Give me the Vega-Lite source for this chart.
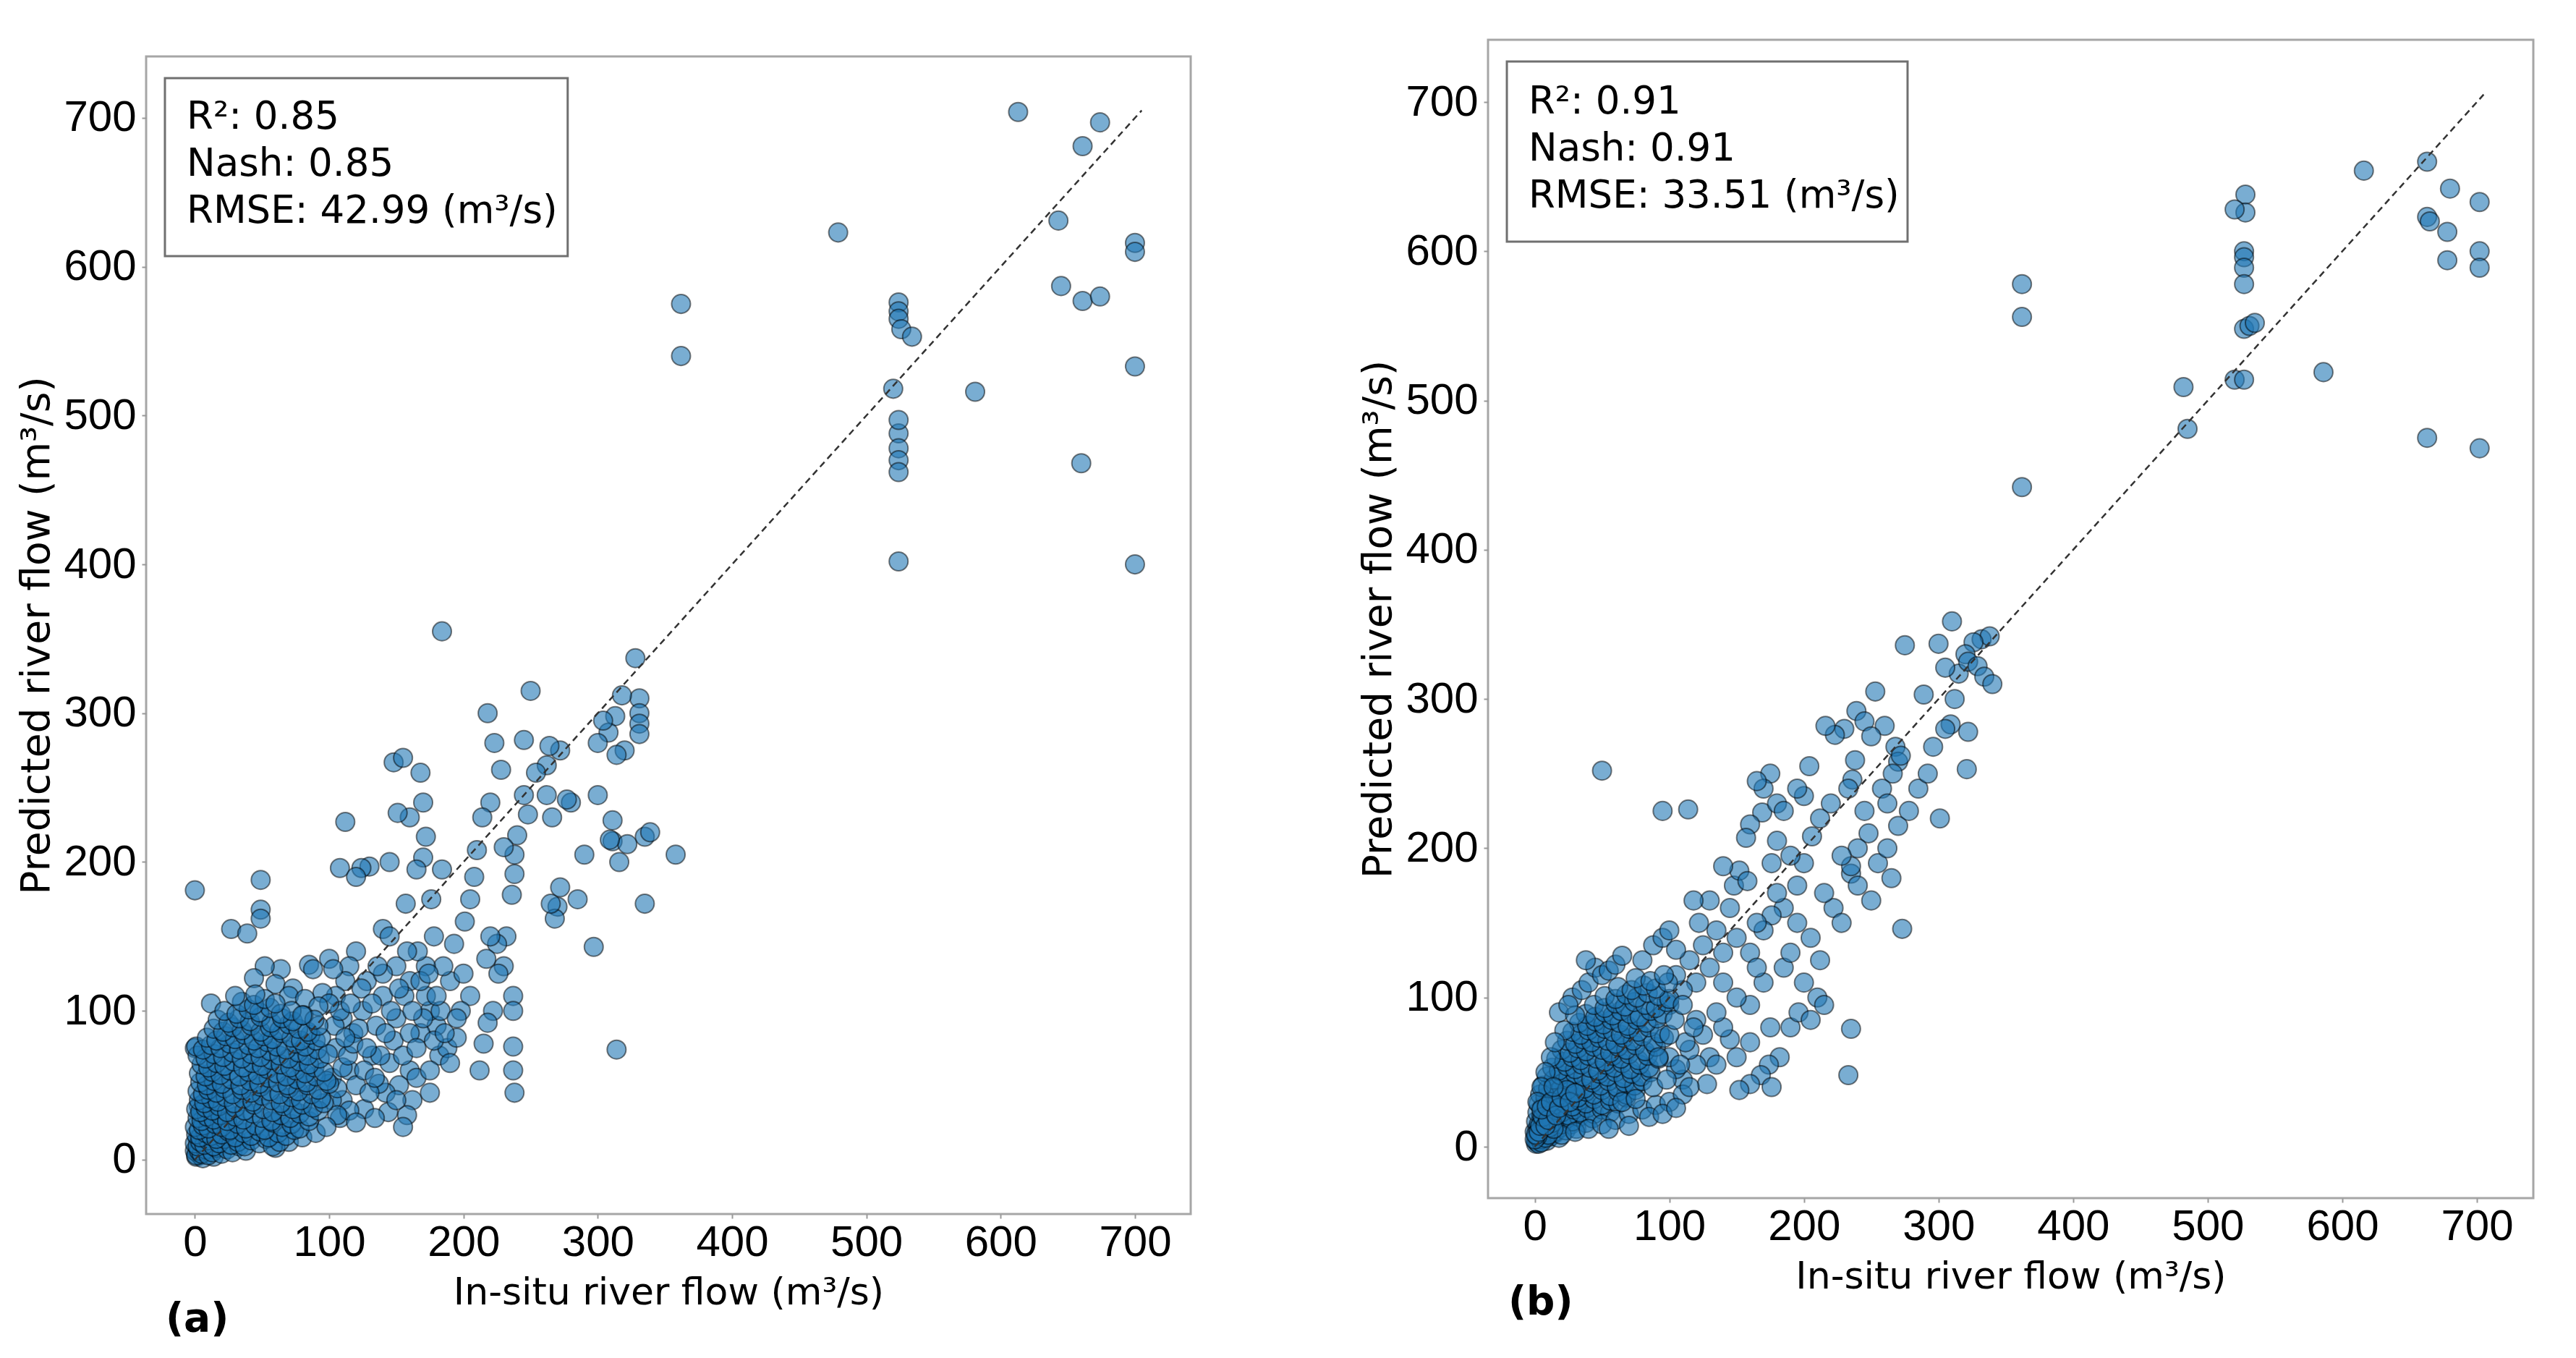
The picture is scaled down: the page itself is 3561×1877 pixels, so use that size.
{
  "$schema": "https://vega.github.io/schema/vega-lite/v6.json",
  "padding": {"left": 22, "top": 52, "right": 20, "bottom": 10},
  "background": "white",
  "spacing": 229,
  "config": {
    "font": "DejaVu Sans",
    "view": {"stroke": "#a6a6a6", "strokeWidth": 3},
    "axis": {
      "grid": false, "domain": false,
      "tickColor": "#999999", "tickSize": 6, "tickWidth": 2,
      "labelFont": "Liberation Sans", "labelFontSize": 60, "labelColor": "#000000",
      "labelFlush": false, "labelOverlap": false,
      "titleFont": "DejaVu Sans", "titleFontWeight": "normal", "titleColor": "#000000"
    },
    "axisX": {"labelPadding": 4, "titlePadding": 14, "titleFontSize": 52},
    "axisY": {"labelPadding": 8, "titlePadding": 8, "titleFontSize": 55}
  },
  "datasets": {
    "a": [
      {"x":613,"y":704},{"x":674,"y":697},{"x":661,"y":681},{"x":479,"y":623},{"x":643,"y":631},{"x":645,"y":587},{"x":661,"y":577},{"x":674,"y":580},{"x":700,"y":616},{"x":700,"y":610},{"x":700,"y":533},{"x":700,"y":400},{"x":660,"y":468},{"x":581,"y":516},{"x":362,"y":575},{"x":362,"y":540},{"x":524,"y":576},{"x":524,"y":570},{"x":524,"y":565},{"x":526,"y":558},{"x":534,"y":553},{"x":520,"y":518},{"x":524,"y":488},{"x":524,"y":478},{"x":524,"y":470},{"x":524,"y":462},{"x":524,"y":402},{"x":524,"y":497},{"x":184,"y":355},
      {"x":328,"y":337},{"x":331,"y":310},{"x":331,"y":300},{"x":331,"y":293},{"x":331,"y":286},{"x":318,"y":312},{"x":313,"y":298},{"x":320,"y":275},{"x":314,"y":272},{"x":308,"y":287},{"x":304,"y":295},{"x":300,"y":280},{"x":297,"y":143},{"x":314,"y":74},{"x":335,"y":217},{"x":335,"y":172},{"x":358,"y":205},{"x":311,"y":228},{"x":311,"y":214},{"x":316,"y":200},{"x":322,"y":212},{"x":309,"y":215},{"x":339,"y":220},
      {"x":280,"y":240},{"x":277,"y":242},{"x":272,"y":275},{"x":264,"y":278},{"x":262,"y":265},{"x":254,"y":260},{"x":250,"y":315},{"x":245,"y":282},{"x":245,"y":245},{"x":248,"y":232},{"x":240,"y":218},{"x":238,"y":205},{"x":238,"y":192},{"x":236,"y":178},{"x":230,"y":210},{"x":228,"y":262},{"x":223,"y":280},{"x":218,"y":300},{"x":220,"y":240},{"x":214,"y":230},{"x":210,"y":208},{"x":208,"y":190},{"x":205,"y":175},{"x":201,"y":160},
      {"x":262,"y":245},{"x":266,"y":230},{"x":270,"y":170},{"x":268,"y":162},{"x":265,"y":172},{"x":272,"y":183},{"x":290,"y":205},{"x":285,"y":175},{"x":300,"y":245},
      {"x":237,"y":110},{"x":237,"y":100},{"x":237,"y":76},{"x":237,"y":60},{"x":238,"y":45},{"x":232,"y":150},{"x":230,"y":130},{"x":226,"y":125},{"x":222,"y":100},{"x":218,"y":92},{"x":215,"y":78},{"x":212,"y":60},{"x":225,"y":145},{"x":220,"y":150},{"x":217,"y":135},
      {"x":184,"y":195},{"x":176,"y":175},{"x":172,"y":217},{"x":170,"y":203},{"x":170,"y":240},{"x":168,"y":260},{"x":165,"y":195},{"x":160,"y":230},{"x":151,"y":233},{"x":148,"y":267},{"x":155,"y":270},{"x":145,"y":200},{"x":140,"y":155},{"x":130,"y":197},{"x":124,"y":196},{"x":112,"y":227},{"x":108,"y":196},{"x":120,"y":190},
      {"x":190,"y":120},{"x":185,"y":130},{"x":180,"y":90},{"x":175,"y":100},{"x":172,"y":110},{"x":178,"y":150},{"x":168,"y":85},{"x":162,"y":40},{"x":158,"y":30},{"x":155,"y":22},{"x":160,"y":60},{"x":165,"y":55},{"x":152,"y":50},{"x":150,"y":95},{"x":148,"y":80},{"x":145,"y":65},{"x":142,"y":45},{"x":140,"y":110},{"x":135,"y":90},{"x":137,"y":51},{"x":126,"y":34},{"x":132,"y":70},{"x":128,"y":120},{"x":120,"y":140},{"x":115,"y":130},{"x":125,"y":100},{"x":118,"y":85},{"x":110,"y":95},{"x":112,"y":120},{"x":105,"y":110},{"x":100,"y":135},{"x":103,"y":128},{"x":105,"y":75},{"x":115,"y":60},{"x":120,"y":50},{"x":110,"y":40},{"x":102,"y":55},{"x":108,"y":28},{"x":115,"y":33},
      {"x":175,"y":45},{"x":182,"y":70},{"x":188,"y":75},{"x":195,"y":82},{"x":200,"y":125},{"x":205,"y":110},{"x":198,"y":100},{"x":193,"y":145},{"x":172,"y":130},{"x":166,"y":140},{"x":160,"y":120},{"x":156,"y":110},{"x":150,"y":130},{"x":145,"y":150},{"x":157,"y":172},{"x":140,"y":125},
      {"x":102,"y":40},{"x":106,"y":48},{"x":110,"y":62},{"x":114,"y":70},{"x":118,"y":78},{"x":122,"y":88},{"x":126,"y":60},{"x":130,"y":45},{"x":134,"y":55},{"x":138,"y":70},{"x":142,"y":85},{"x":146,"y":100},{"x":104,"y":90},{"x":108,"y":100},{"x":116,"y":105},{"x":124,"y":115},{"x":132,"y":105},{"x":136,"y":130},{"x":112,"y":82},{"x":128,"y":75},{"x":144,"y":32},{"x":150,"y":40},{"x":106,"y":30},{"x":120,"y":25},{"x":134,"y":28},
      {"x":155,"y":70},{"x":160,"y":85},{"x":165,"y":75},{"x":170,"y":95},{"x":175,"y":60},{"x":178,"y":80},{"x":183,"y":100},{"x":186,"y":85},{"x":190,"y":65},{"x":195,"y":95},{"x":152,"y":115},{"x":162,"y":100},{"x":168,"y":120},{"x":158,"y":140},{"x":174,"y":125},{"x":180,"y":110},
      {"x":27,"y":155},{"x":39,"y":152},{"x":49,"y":188},{"x":49,"y":168},{"x":49,"y":162},{"x":64,"y":128},{"x":85,"y":131},{"x":88,"y":128},{"x":52,"y":130},{"x":44,"y":122},{"x":60,"y":118},{"x":73,"y":115},{"x":95,"y":112},{"x":100,"y":105},{"x":0,"y":181},{"x":0,"y":75},{"x":12,"y":105},{"x":70,"y":110},{"x":82,"y":108},{"x":92,"y":103},
      {"x":70,"y":12},{"x":80,"y":15},{"x":90,"y":18},{"x":98,"y":22},{"x":60,"y":8},
      {"x":1,"y":2},{"x":2,"y":5},{"x":3,"y":8},{"x":4,"y":3},{"x":6,"y":6},{"x":7,"y":14},{"x":9,"y":18},{"x":11,"y":7},{"x":12,"y":24},{"x":5,"y":30},{"x":3,"y":36},{"x":15,"y":11},{"x":17,"y":28},{"x":8,"y":22},{"x":2,"y":14},{"x":0,"y":6},{"x":6,"y":1},{"x":14,"y":2},{"x":19,"y":12},{"x":23,"y":17},
      {"x":1,"y":3},{"x":3,"y":6},{"x":5,"y":4},{"x":8,"y":7},{"x":10,"y":3},{"x":13,"y":5},{"x":16,"y":8},{"x":20,"y":4},{"x":24,"y":7},{"x":28,"y":5},{"x":33,"y":9},{"x":38,"y":6},
      {"x":0,"y":11},{"x":2,"y":9},{"x":4,"y":12},{"x":7,"y":10},{"x":10,"y":13},{"x":14,"y":9},{"x":18,"y":11},{"x":22,"y":14},{"x":27,"y":10},{"x":32,"y":12},{"x":37,"y":9},{"x":42,"y":13},{"x":48,"y":11},{"x":53,"y":14},{"x":58,"y":9},{"x":63,"y":12},
      {"x":1,"y":17},{"x":4,"y":15},{"x":8,"y":18},{"x":12,"y":16},{"x":16,"y":14},{"x":20,"y":17},{"x":25,"y":19},{"x":30,"y":15},{"x":36,"y":18},{"x":42,"y":16},{"x":48,"y":19},{"x":55,"y":15},{"x":62,"y":18},{"x":68,"y":16},{"x":74,"y":20},
      {"x":0,"y":22},{"x":3,"y":20},{"x":6,"y":23},{"x":10,"y":21},{"x":15,"y":24},{"x":20,"y":22},{"x":26,"y":20},{"x":32,"y":24},{"x":38,"y":21},{"x":45,"y":23},{"x":52,"y":20},{"x":58,"y":25},{"x":65,"y":22},{"x":72,"y":24},{"x":78,"y":21},{"x":85,"y":26},
      {"x":2,"y":28},{"x":5,"y":26},{"x":9,"y":29},{"x":14,"y":27},{"x":19,"y":30},{"x":24,"y":26},{"x":30,"y":29},{"x":36,"y":27},{"x":43,"y":31},{"x":50,"y":28},{"x":57,"y":26},{"x":64,"y":30},{"x":71,"y":28},{"x":78,"y":31},{"x":85,"y":29},{"x":92,"y":33},
      {"x":1,"y":34},{"x":4,"y":32},{"x":8,"y":35},{"x":13,"y":33},{"x":18,"y":36},{"x":24,"y":32},{"x":30,"y":35},{"x":37,"y":33},{"x":44,"y":37},{"x":51,"y":34},{"x":58,"y":32},{"x":66,"y":36},{"x":73,"y":34},{"x":80,"y":37},{"x":88,"y":35},{"x":96,"y":38},
      {"x":3,"y":40},{"x":7,"y":38},{"x":12,"y":41},{"x":17,"y":39},{"x":23,"y":42},{"x":29,"y":38},{"x":36,"y":41},{"x":43,"y":39},{"x":50,"y":43},{"x":57,"y":40},{"x":64,"y":38},{"x":72,"y":42},{"x":79,"y":40},{"x":87,"y":44},{"x":94,"y":41},
      {"x":2,"y":46},{"x":6,"y":44},{"x":10,"y":47},{"x":16,"y":45},{"x":22,"y":48},{"x":28,"y":44},{"x":35,"y":47},{"x":42,"y":45},{"x":49,"y":49},{"x":56,"y":46},{"x":63,"y":44},{"x":70,"y":48},{"x":77,"y":46},{"x":84,"y":50},{"x":92,"y":47},{"x":100,"y":51},
      {"x":4,"y":52},{"x":9,"y":50},{"x":14,"y":53},{"x":20,"y":51},{"x":27,"y":54},{"x":34,"y":50},{"x":41,"y":53},{"x":48,"y":51},{"x":55,"y":55},{"x":62,"y":52},{"x":69,"y":50},{"x":76,"y":54},{"x":83,"y":52},{"x":90,"y":56},{"x":98,"y":53},
      {"x":3,"y":58},{"x":8,"y":56},{"x":13,"y":59},{"x":19,"y":57},{"x":26,"y":60},{"x":33,"y":56},{"x":40,"y":59},{"x":47,"y":57},{"x":54,"y":61},{"x":61,"y":58},{"x":68,"y":56},{"x":75,"y":60},{"x":82,"y":58},{"x":89,"y":62},{"x":96,"y":59},
      {"x":5,"y":64},{"x":10,"y":62},{"x":16,"y":65},{"x":22,"y":63},{"x":29,"y":66},{"x":36,"y":62},{"x":43,"y":65},{"x":50,"y":63},{"x":57,"y":67},{"x":64,"y":64},{"x":71,"y":62},{"x":78,"y":66},{"x":85,"y":64},{"x":93,"y":68},
      {"x":2,"y":70},{"x":8,"y":68},{"x":14,"y":71},{"x":21,"y":69},{"x":28,"y":72},{"x":35,"y":68},{"x":42,"y":71},{"x":49,"y":69},{"x":56,"y":73},{"x":63,"y":70},{"x":70,"y":68},{"x":77,"y":72},{"x":84,"y":70},{"x":91,"y":74},{"x":99,"y":71},
      {"x":1,"y":76},{"x":6,"y":74},{"x":12,"y":77},{"x":19,"y":75},{"x":26,"y":78},{"x":33,"y":74},{"x":40,"y":77},{"x":47,"y":75},{"x":54,"y":79},{"x":61,"y":76},{"x":68,"y":74},{"x":75,"y":78},{"x":82,"y":76},{"x":90,"y":80},
      {"x":9,"y":82},{"x":16,"y":80},{"x":23,"y":83},{"x":30,"y":81},{"x":37,"y":84},{"x":44,"y":80},{"x":51,"y":83},{"x":58,"y":81},{"x":65,"y":85},{"x":72,"y":82},{"x":79,"y":80},{"x":86,"y":84},{"x":94,"y":82},
      {"x":14,"y":88},{"x":21,"y":86},{"x":28,"y":89},{"x":35,"y":87},{"x":42,"y":90},{"x":49,"y":86},{"x":56,"y":89},{"x":63,"y":87},{"x":70,"y":91},{"x":77,"y":88},{"x":84,"y":86},{"x":92,"y":90},
      {"x":17,"y":94},{"x":25,"y":92},{"x":33,"y":95},{"x":41,"y":93},{"x":49,"y":96},{"x":57,"y":92},{"x":65,"y":95},{"x":73,"y":93},{"x":81,"y":97},{"x":89,"y":94},
      {"x":22,"y":100},{"x":31,"y":98},{"x":40,"y":101},{"x":48,"y":99},{"x":56,"y":102},{"x":64,"y":98},{"x":72,"y":100},{"x":80,"y":97},
      {"x":35,"y":106},{"x":44,"y":104},{"x":52,"y":108},{"x":60,"y":105},{"x":45,"y":111},{"x":30,"y":110}
    ],
    "b": [
      {"x":616,"y":654},{"x":663,"y":660},{"x":680,"y":642},{"x":663,"y":623},{"x":665,"y":620},{"x":678,"y":613},{"x":678,"y":594},{"x":702,"y":633},{"x":702,"y":600},{"x":702,"y":589},{"x":663,"y":475},{"x":702,"y":468},{"x":586,"y":519},{"x":482,"y":509},{"x":485,"y":481},{"x":528,"y":638},{"x":528,"y":626},{"x":520,"y":628},{"x":527,"y":600},{"x":527,"y":596},{"x":527,"y":589},{"x":527,"y":578},{"x":527,"y":548},{"x":531,"y":550},{"x":535,"y":552},{"x":520,"y":514},{"x":527,"y":514},{"x":362,"y":578},{"x":362,"y":556},{"x":362,"y":442},
      {"x":332,"y":340},{"x":338,"y":342},{"x":326,"y":338},{"x":320,"y":330},{"x":315,"y":317},{"x":305,"y":321},{"x":322,"y":325},{"x":329,"y":322},{"x":334,"y":315},{"x":340,"y":310},{"x":322,"y":278},{"x":309,"y":283},{"x":301,"y":220},{"x":321,"y":253},{"x":289,"y":303},{"x":310,"y":352},{"x":300,"y":337},{"x":275,"y":336},{"x":253,"y":305},{"x":268,"y":268},{"x":270,"y":258},{"x":266,"y":250},{"x":272,"y":262},{"x":273,"y":146},{"x":239,"y":292},{"x":245,"y":285},{"x":230,"y":280},{"x":223,"y":276},{"x":216,"y":282},{"x":238,"y":259},{"x":236,"y":246},{"x":233,"y":240},{"x":235,"y":183},{"x":235,"y":188},{"x":235,"y":79},{"x":233,"y":48},{"x":200,"y":235},{"x":204,"y":255},{"x":169,"y":224},{"x":160,"y":216},{"x":157,"y":207},{"x":175,"y":250},{"x":170,"y":240},{"x":165,"y":245},{"x":180,"y":230},{"x":114,"y":226},{"x":50,"y":252},{"x":95,"y":225},
      {"x":260,"y":282},{"x":250,"y":275},{"x":258,"y":240},{"x":262,"y":230},{"x":245,"y":225},{"x":248,"y":210},{"x":240,"y":200},{"x":228,"y":195},{"x":220,"y":230},{"x":212,"y":220},{"x":206,"y":208},{"x":200,"y":190},{"x":195,"y":175},{"x":190,"y":195},{"x":185,"y":160},{"x":180,"y":170},{"x":176,"y":155},{"x":170,"y":145},{"x":165,"y":150},{"x":160,"y":130},{"x":150,"y":140},{"x":145,"y":160},{"x":140,"y":130},{"x":135,"y":145},{"x":130,"y":120},{"x":125,"y":135},{"x":120,"y":110},{"x":115,"y":125},{"x":110,"y":105},{"x":105,"y":115},{"x":100,"y":95},{"x":180,"y":205},{"x":176,"y":190},{"x":185,"y":225},{"x":195,"y":240},{"x":148,"y":175},{"x":152,"y":185},{"x":158,"y":178},{"x":140,"y":188},{"x":130,"y":165},{"x":122,"y":150},{"x":118,"y":165},
      {"x":190,"y":80},{"x":196,"y":90},{"x":205,"y":85},{"x":210,"y":100},{"x":200,"y":110},{"x":215,"y":95},{"x":182,"y":60},{"x":174,"y":55},{"x":168,"y":48},{"x":160,"y":42},{"x":152,"y":38},{"x":176,"y":40},{"x":150,"y":60},{"x":145,"y":72},{"x":140,"y":80},{"x":135,"y":90},{"x":130,"y":60},{"x":125,"y":75},{"x":120,"y":55},{"x":115,"y":65},{"x":110,"y":45},{"x":105,"y":52},{"x":100,"y":60},{"x":120,"y":85},{"x":160,"y":95},{"x":170,"y":110},{"x":175,"y":80},{"x":185,"y":120},{"x":190,"y":130},{"x":160,"y":70},{"x":150,"y":100},{"x":140,"y":110},{"x":135,"y":55},{"x":128,"y":42},{"x":165,"y":120},{"x":195,"y":150},{"x":205,"y":140},{"x":212,"y":125},{"x":222,"y":160},{"x":228,"y":150},{"x":215,"y":170},{"x":240,"y":175},{"x":250,"y":165},{"x":255,"y":190},{"x":262,"y":200},{"x":265,"y":180},{"x":270,"y":215},{"x":278,"y":225},{"x":285,"y":240},{"x":292,"y":250},{"x":296,"y":268},{"x":305,"y":280},{"x":312,"y":300},
      {"x":1,"y":4},{"x":3,"y":6},{"x":5,"y":5},{"x":7,"y":8},{"x":9,"y":4},{"x":12,"y":7},{"x":15,"y":9},{"x":18,"y":6},
      {"x":0,"y":10},{"x":2,"y":12},{"x":4,"y":9},{"x":6,"y":13},{"x":9,"y":11},{"x":12,"y":14},{"x":15,"y":10},{"x":19,"y":13},{"x":23,"y":11},{"x":27,"y":15},{"x":31,"y":12},
      {"x":1,"y":17},{"x":3,"y":15},{"x":6,"y":18},{"x":9,"y":16},{"x":12,"y":19},{"x":16,"y":17},{"x":20,"y":15},{"x":24,"y":19},{"x":28,"y":17},{"x":33,"y":20},{"x":38,"y":16},{"x":43,"y":19},
      {"x":2,"y":23},{"x":5,"y":21},{"x":8,"y":24},{"x":12,"y":22},{"x":16,"y":25},{"x":20,"y":23},{"x":25,"y":21},{"x":29,"y":25},{"x":34,"y":23},{"x":39,"y":26},{"x":44,"y":22},{"x":50,"y":25},{"x":56,"y":23},
      {"x":3,"y":29},{"x":6,"y":27},{"x":10,"y":30},{"x":14,"y":28},{"x":18,"y":31},{"x":23,"y":29},{"x":28,"y":27},{"x":33,"y":31},{"x":38,"y":29},{"x":44,"y":32},{"x":50,"y":28},{"x":56,"y":31},{"x":62,"y":29},{"x":68,"y":33},
      {"x":4,"y":35},{"x":8,"y":33},{"x":12,"y":36},{"x":17,"y":34},{"x":22,"y":37},{"x":27,"y":35},{"x":32,"y":33},{"x":38,"y":37},{"x":44,"y":35},{"x":50,"y":38},{"x":56,"y":34},{"x":62,"y":37},{"x":68,"y":35},{"x":75,"y":38},
      {"x":6,"y":41},{"x":10,"y":39},{"x":15,"y":42},{"x":20,"y":40},{"x":26,"y":43},{"x":31,"y":41},{"x":37,"y":39},{"x":43,"y":43},{"x":49,"y":41},{"x":55,"y":44},{"x":61,"y":40},{"x":67,"y":43},{"x":74,"y":41},{"x":80,"y":44},
      {"x":9,"y":47},{"x":14,"y":45},{"x":19,"y":48},{"x":25,"y":46},{"x":30,"y":49},{"x":36,"y":47},{"x":42,"y":45},{"x":48,"y":49},{"x":54,"y":47},{"x":60,"y":50},{"x":66,"y":46},{"x":72,"y":49},{"x":79,"y":47},{"x":86,"y":50},
      {"x":13,"y":53},{"x":18,"y":51},{"x":24,"y":54},{"x":30,"y":52},{"x":35,"y":55},{"x":41,"y":53},{"x":47,"y":51},{"x":53,"y":55},{"x":59,"y":53},{"x":65,"y":56},{"x":71,"y":52},{"x":78,"y":55},{"x":85,"y":53},
      {"x":16,"y":59},{"x":22,"y":57},{"x":28,"y":60},{"x":34,"y":58},{"x":40,"y":61},{"x":46,"y":59},{"x":52,"y":57},{"x":58,"y":61},{"x":64,"y":59},{"x":70,"y":62},{"x":77,"y":58},{"x":84,"y":61},{"x":92,"y":59},
      {"x":20,"y":65},{"x":26,"y":63},{"x":32,"y":66},{"x":38,"y":64},{"x":44,"y":67},{"x":50,"y":65},{"x":56,"y":63},{"x":62,"y":67},{"x":68,"y":65},{"x":75,"y":68},{"x":82,"y":64},{"x":90,"y":67},
      {"x":24,"y":71},{"x":30,"y":69},{"x":36,"y":72},{"x":42,"y":70},{"x":48,"y":73},{"x":54,"y":71},{"x":60,"y":69},{"x":66,"y":73},{"x":73,"y":71},{"x":80,"y":74},{"x":88,"y":70},{"x":96,"y":73},
      {"x":28,"y":77},{"x":34,"y":75},{"x":40,"y":78},{"x":46,"y":76},{"x":52,"y":79},{"x":58,"y":77},{"x":64,"y":75},{"x":70,"y":79},{"x":77,"y":77},{"x":85,"y":80},{"x":93,"y":76},
      {"x":33,"y":83},{"x":39,"y":81},{"x":45,"y":84},{"x":51,"y":82},{"x":57,"y":85},{"x":63,"y":83},{"x":69,"y":81},{"x":76,"y":85},{"x":83,"y":83},{"x":91,"y":86},
      {"x":38,"y":89},{"x":45,"y":87},{"x":52,"y":90},{"x":58,"y":88},{"x":64,"y":91},{"x":71,"y":89},{"x":78,"y":87},{"x":86,"y":91},{"x":95,"y":89},
      {"x":44,"y":95},{"x":52,"y":93},{"x":60,"y":96},{"x":67,"y":94},{"x":74,"y":97},{"x":82,"y":95},{"x":90,"y":93},{"x":98,"y":97},
      {"x":52,"y":101},{"x":60,"y":99},{"x":68,"y":102},{"x":76,"y":100},{"x":84,"y":103},{"x":92,"y":101},{"x":100,"y":99},
      {"x":62,"y":107},{"x":72,"y":105},{"x":81,"y":108},{"x":90,"y":106},{"x":99,"y":110},{"x":75,"y":113},{"x":86,"y":111},{"x":96,"y":115},
      {"x":22,"y":78},{"x":18,"y":90},{"x":28,"y":100},{"x":35,"y":105},{"x":40,"y":110},{"x":30,"y":88},{"x":25,"y":95},{"x":45,"y":120},{"x":50,"y":115},{"x":55,"y":118},{"x":60,"y":122},{"x":65,"y":128},{"x":80,"y":125},{"x":88,"y":135},{"x":95,"y":140},{"x":100,"y":145},{"x":105,"y":132},{"x":38,"y":125},{"x":12,"y":60},{"x":8,"y":50},{"x":5,"y":40},{"x":2,"y":30},{"x":15,"y":70},
      {"x":20,"y":8},{"x":30,"y":10},{"x":40,"y":12},{"x":50,"y":15},{"x":60,"y":18},{"x":70,"y":22},{"x":80,"y":25},{"x":90,"y":28},{"x":100,"y":30},{"x":110,"y":35},{"x":115,"y":40},{"x":70,"y":14},{"x":85,"y":20},{"x":95,"y":22},{"x":105,"y":26},{"x":55,"y":12},{"x":65,"y":30},{"x":75,"y":32},{"x":88,"y":40},{"x":98,"y":45},{"x":108,"y":55},{"x":112,"y":70},{"x":118,"y":80},{"x":100,"y":75},{"x":92,"y":60},{"x":104,"y":85},{"x":110,"y":95},
      {"x":1,"y":2},{"x":2,"y":3},{"x":3,"y":2},{"x":4,"y":5},{"x":5,"y":3},{"x":6,"y":9},{"x":7,"y":11},{"x":8,"y":6},{"x":10,"y":8},{"x":11,"y":13},{"x":13,"y":16},{"x":14,"y":12},{"x":2,"y":7},{"x":0,"y":5},{"x":1,"y":8},{"x":3,"y":10},{"x":4,"y":14},{"x":6,"y":20},{"x":8,"y":14},{"x":10,"y":18},{"x":5,"y":25},{"x":9,"y":27},{"x":12,"y":30},{"x":16,"y":21},{"x":18,"y":26},{"x":20,"y":33},{"x":24,"y":38},{"x":26,"y":30},{"x":30,"y":36},{"x":14,"y":40}
    ],
    "diag": [{"x": 0, "y": 0}, {"x": 705, "y": 705}],
    "sa": [{"stats": "R²: 0.85\nNash: 0.85\nRMSE: 42.99 (m³/s)", "label": "(a)"}],
    "sb": [{"stats": "R²: 0.91\nNash: 0.91\nRMSE: 33.51 (m³/s)", "label": "(b)"}]
  },
  "hconcat": [
    {
      "spacing": 17,
      "vconcat": [
        {
          "width": 10, "height": 1,
          "data": {"values": [{"k": 1}]},
          "mark": {"type": "point", "opacity": 0},
          "view": {"stroke": null}
        },
        {
          "width": 1444, "height": 1600,
          "layer": [
            {
              "data": {"name": "a"},
              "mark": {"type": "circle", "size": 680, "color": "#1f77b4", "fillOpacity": 0.6, "stroke": "#000000", "strokeOpacity": 0.5, "strokeWidth": 2},
              "encoding": {
                "x": {"field": "x", "type": "quantitative", "scale": {"domain": [-36.3, 741.5], "nice": false, "zero": false},
                      "axis": {"title": "In-situ river flow (m³/s)", "values": [0,100,200,300,400,500,600,700]}},
                "y": {"field": "y", "type": "quantitative", "scale": {"domain": [-36.5, 741.3], "nice": false, "zero": false},
                      "axis": {"title": "Predicted river flow (m³/s)", "values": [0,100,200,300,400,500,600,700]}}
              }
            },
            {
              "data": {"name": "diag"},
              "mark": {"type": "line", "color": "#333333", "strokeDash": [9, 6], "strokeWidth": 2.5},
              "encoding": {
                "x": {"field": "x", "type": "quantitative"},
                "y": {"field": "y", "type": "quantitative"}
              }
            },
            {
              "data": {"name": "sa"},
              "mark": {"type": "rect", "fill": "white", "stroke": "#707070", "strokeWidth": 3},
              "encoding": {
                "x": {"datum": -22.3, "type": "quantitative"},
                "x2": {"datum": 277.6},
                "y": {"datum": 726.7, "type": "quantitative"},
                "y2": {"datum": 607.1}
              }
            },
            {
              "data": {"name": "sa"},
              "mark": {"type": "text", "align": "left", "baseline": "alphabetic", "lineBreak": "\n", "lineHeight": 65, "fontSize": 53, "font": "DejaVu Sans", "color": "#000000"},
              "encoding": {
                "x": {"datum": -6.1, "type": "quantitative"},
                "y": {"datum": 692.7, "type": "quantitative"},
                "text": {"field": "stats"}
              }
            },
            {
              "data": {"name": "sa"},
              "mark": {"type": "text", "align": "left", "baseline": "alphabetic", "fontSize": 55, "fontWeight": "bold", "font": "DejaVu Sans", "color": "#000000"},
              "encoding": {
                "x": {"datum": -21.8, "type": "quantitative"},
                "y": {"datum": -115.2, "type": "quantitative"},
                "text": {"field": "label"}
              }
            }
          ]
        }
      ]
    },
    {
      "width": 1445, "height": 1601,
      "layer": [
        {
          "data": {"name": "b"},
          "mark": {"type": "circle", "size": 680, "color": "#1f77b4", "fillOpacity": 0.6, "stroke": "#000000", "strokeOpacity": 0.5, "strokeWidth": 2},
          "encoding": {
            "x": {"field": "x", "type": "quantitative", "scale": {"domain": [-34.7, 741.9], "nice": false, "zero": false},
                  "axis": {"title": "In-situ river flow (m³/s)", "values": [0,100,200,300,400,500,600,700]}},
            "y": {"field": "y", "type": "quantitative", "scale": {"domain": [-34.4, 741.7], "nice": false, "zero": false},
                  "axis": {"title": "Predicted river flow (m³/s)", "values": [0,100,200,300,400,500,600,700]}}
          }
        },
        {
          "data": {"name": "diag"},
          "mark": {"type": "line", "color": "#333333", "strokeDash": [9, 6], "strokeWidth": 2.5},
          "encoding": {
            "x": {"field": "x", "type": "quantitative"},
            "y": {"field": "y", "type": "quantitative"}
          }
        },
        {
          "data": {"name": "sb"},
          "mark": {"type": "rect", "fill": "white", "stroke": "#707070", "strokeWidth": 3},
          "encoding": {
            "x": {"datum": -20.7, "type": "quantitative"},
            "x2": {"datum": 277.0},
            "y": {"datum": 727.1, "type": "quantitative"},
            "y2": {"datum": 606.4}
          }
        },
        {
          "data": {"name": "sb"},
          "mark": {"type": "text", "align": "left", "baseline": "alphabetic", "lineBreak": "\n", "lineHeight": 65, "fontSize": 53, "font": "DejaVu Sans", "color": "#000000"},
          "encoding": {
            "x": {"datum": -4.6, "type": "quantitative"},
            "y": {"datum": 692.2, "type": "quantitative"},
            "text": {"field": "stats"}
          }
        },
        {
          "data": {"name": "sb"},
          "mark": {"type": "text", "align": "left", "baseline": "alphabetic", "fontSize": 55, "fontWeight": "bold", "font": "DejaVu Sans", "color": "#000000"},
          "encoding": {
            "x": {"datum": -19.7, "type": "quantitative"},
            "y": {"datum": -112.5, "type": "quantitative"},
            "text": {"field": "label"}
          }
        }
      ]
    }
  ]
}
